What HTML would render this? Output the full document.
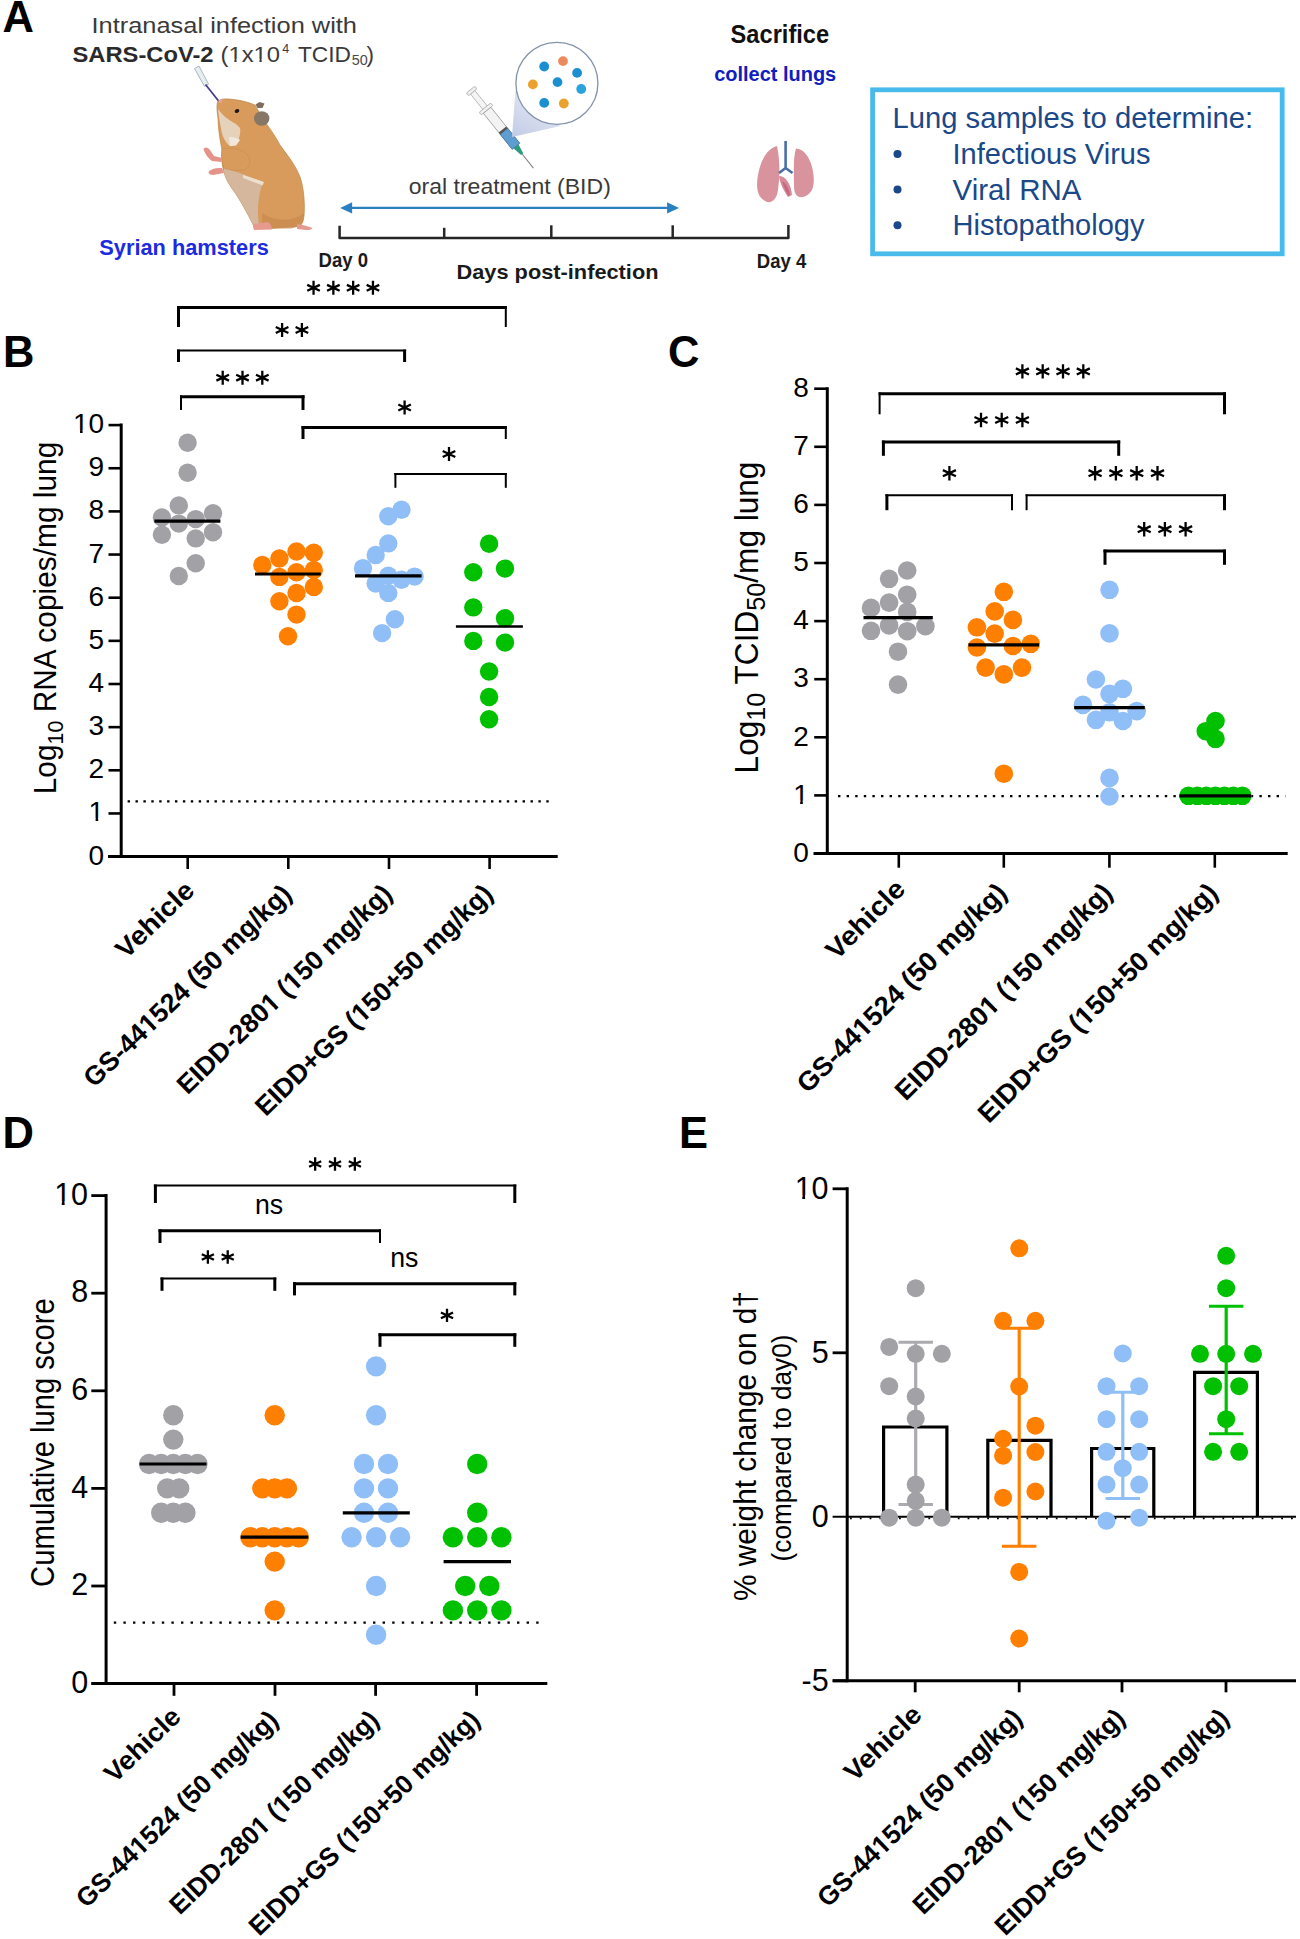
<!DOCTYPE html><html><head><meta charset="utf-8"><style>html,body{margin:0;padding:0;background:#fff;}svg{display:block;}</style></head><body>
<svg width="1300" height="1939" viewBox="0 0 1300 1939" font-family='"Liberation Sans", sans-serif'>
<rect width="1300" height="1939" fill="#fff"/>
<text x="2.5" y="32.1" font-size="43.5" text-anchor="start" font-weight="bold" fill="#000" >A</text>
<text x="3" y="366.8" font-size="43.5" text-anchor="start" font-weight="bold" fill="#000" >B</text>
<text x="668" y="366.8" font-size="43.5" text-anchor="start" font-weight="bold" fill="#000" >C</text>
<text x="2.5" y="1148" font-size="43.5" text-anchor="start" font-weight="bold" fill="#000" >D</text>
<text x="679" y="1148.4" font-size="43.5" text-anchor="start" font-weight="bold" fill="#000" >E</text>
<line x1="121.2" y1="423.6" x2="121.2" y2="858.1" stroke="#000" stroke-width="3" stroke-linecap="butt" />
<line x1="108" y1="856.6" x2="557.7" y2="856.6" stroke="#000" stroke-width="3" stroke-linecap="butt" />
<line x1="108.5" y1="856.6" x2="121.2" y2="856.6" stroke="#000" stroke-width="2.6" stroke-linecap="butt" />
<text x="104.2" y="864.6" font-size="28" text-anchor="end" font-weight="normal" fill="#000" >0</text>
<line x1="108.5" y1="813.45" x2="121.2" y2="813.45" stroke="#000" stroke-width="2.6" stroke-linecap="butt" />
<text x="104.2" y="821.45" font-size="28" text-anchor="end" font-weight="normal" fill="#000" >1</text>
<rect x="89.75" y="818.23" width="5.85" height="4.22" fill="#fff"/>
<rect x="98.2" y="818.23" width="5.68" height="4.22" fill="#fff"/>
<line x1="108.5" y1="770.3" x2="121.2" y2="770.3" stroke="#000" stroke-width="2.6" stroke-linecap="butt" />
<text x="104.2" y="778.3" font-size="28" text-anchor="end" font-weight="normal" fill="#000" >2</text>
<line x1="108.5" y1="727.15" x2="121.2" y2="727.15" stroke="#000" stroke-width="2.6" stroke-linecap="butt" />
<text x="104.2" y="735.15" font-size="28" text-anchor="end" font-weight="normal" fill="#000" >3</text>
<line x1="108.5" y1="684" x2="121.2" y2="684" stroke="#000" stroke-width="2.6" stroke-linecap="butt" />
<text x="104.2" y="692" font-size="28" text-anchor="end" font-weight="normal" fill="#000" >4</text>
<line x1="108.5" y1="640.85" x2="121.2" y2="640.85" stroke="#000" stroke-width="2.6" stroke-linecap="butt" />
<text x="104.2" y="648.85" font-size="28" text-anchor="end" font-weight="normal" fill="#000" >5</text>
<line x1="108.5" y1="597.7" x2="121.2" y2="597.7" stroke="#000" stroke-width="2.6" stroke-linecap="butt" />
<text x="104.2" y="605.7" font-size="28" text-anchor="end" font-weight="normal" fill="#000" >6</text>
<line x1="108.5" y1="554.55" x2="121.2" y2="554.55" stroke="#000" stroke-width="2.6" stroke-linecap="butt" />
<text x="104.2" y="562.55" font-size="28" text-anchor="end" font-weight="normal" fill="#000" >7</text>
<line x1="108.5" y1="511.4" x2="121.2" y2="511.4" stroke="#000" stroke-width="2.6" stroke-linecap="butt" />
<text x="104.2" y="519.4" font-size="28" text-anchor="end" font-weight="normal" fill="#000" >8</text>
<line x1="108.5" y1="468.25" x2="121.2" y2="468.25" stroke="#000" stroke-width="2.6" stroke-linecap="butt" />
<text x="104.2" y="476.25" font-size="28" text-anchor="end" font-weight="normal" fill="#000" >9</text>
<line x1="108.5" y1="425.1" x2="121.2" y2="425.1" stroke="#000" stroke-width="2.6" stroke-linecap="butt" />
<text x="104.2" y="433.1" font-size="28" text-anchor="end" font-weight="normal" fill="#000" >10</text>
<rect x="74.18" y="429.88" width="5.85" height="4.22" fill="#fff"/>
<rect x="82.63" y="429.88" width="5.68" height="4.22" fill="#fff"/>
<line x1="187.7" y1="856.6" x2="187.7" y2="869" stroke="#000" stroke-width="2.6" stroke-linecap="butt" />
<line x1="288.3" y1="856.6" x2="288.3" y2="869" stroke="#000" stroke-width="2.6" stroke-linecap="butt" />
<line x1="389" y1="856.6" x2="389" y2="869" stroke="#000" stroke-width="2.6" stroke-linecap="butt" />
<line x1="489.6" y1="856.6" x2="489.6" y2="869" stroke="#000" stroke-width="2.6" stroke-linecap="butt" />
<text transform="translate(56.2,618) rotate(-90)" font-size="31" text-anchor="middle" textLength="352.5" lengthAdjust="spacingAndGlyphs">Log<tspan font-size="22.2" dy="7">10</tspan><tspan dy="-7"> RNA copies/mg lung</tspan></text>
<g transform="translate(195.99,892.22) rotate(-44.1)"><text font-size="26.6" text-anchor="end" font-weight="bold" textLength="97.35" lengthAdjust="spacingAndGlyphs">Vehicle</text></g>
<g transform="translate(293,895.7) rotate(-44.1)"><text font-size="26.6" text-anchor="end" font-weight="bold" textLength="276.94" lengthAdjust="spacingAndGlyphs">GS-441524 (50 mg/kg)</text><rect x="-198.86" y="-3.59" width="5.09" height="4.79" fill="#fff"/><rect x="-190.02" y="-3.59" width="4.69" height="4.79" fill="#fff"/></g>
<g transform="translate(393.7,895.7) rotate(-44.1)"><text font-size="26.6" text-anchor="end" font-weight="bold" textLength="287.28" lengthAdjust="spacingAndGlyphs">EIDD-2801 (150 mg/kg)</text><rect x="-169.23" y="-3.59" width="5.09" height="4.79" fill="#fff"/><rect x="-160.38" y="-3.59" width="4.69" height="4.79" fill="#fff"/><rect x="-138.13" y="-3.59" width="5.09" height="4.79" fill="#fff"/><rect x="-129.28" y="-3.59" width="4.69" height="4.79" fill="#fff"/></g>
<g transform="translate(494.3,895.7) rotate(-44.1)"><text font-size="26.6" text-anchor="end" font-weight="bold" textLength="318.4" lengthAdjust="spacingAndGlyphs">EIDD+GS (150+50 mg/kg)</text><rect x="-183.34" y="-3.59" width="5.09" height="4.79" fill="#fff"/><rect x="-174.49" y="-3.59" width="4.69" height="4.79" fill="#fff"/></g>
<line x1="127.6" y1="801.4" x2="552" y2="801.4" stroke="#000" stroke-width="2.2" stroke-dasharray="2.4 5.5"/>
<circle cx="187.6" cy="442.7" r="9.2" fill="#a1a1a6"/>
<circle cx="187.6" cy="472.7" r="9.2" fill="#a1a1a6"/>
<circle cx="178.8" cy="505.4" r="9.2" fill="#a1a1a6"/>
<circle cx="161.9" cy="517.4" r="9.2" fill="#a1a1a6"/>
<circle cx="213" cy="513.3" r="9.2" fill="#a1a1a6"/>
<circle cx="195.7" cy="519.1" r="9.2" fill="#a1a1a6"/>
<circle cx="178.8" cy="523.6" r="9.2" fill="#a1a1a6"/>
<circle cx="161.9" cy="534.7" r="9.2" fill="#a1a1a6"/>
<circle cx="213" cy="532.3" r="9.2" fill="#a1a1a6"/>
<circle cx="195.7" cy="538.4" r="9.2" fill="#a1a1a6"/>
<circle cx="195.7" cy="563.2" r="9.2" fill="#a1a1a6"/>
<circle cx="178.8" cy="576" r="9.2" fill="#a1a1a6"/>
<circle cx="262.3" cy="565" r="9.2" fill="#ff7f00"/>
<circle cx="279.4" cy="558.5" r="9.2" fill="#ff7f00"/>
<circle cx="296.5" cy="551.5" r="9.2" fill="#ff7f00"/>
<circle cx="313.8" cy="552.7" r="9.2" fill="#ff7f00"/>
<circle cx="313.8" cy="570" r="9.2" fill="#ff7f00"/>
<circle cx="296.5" cy="572.3" r="9.2" fill="#ff7f00"/>
<circle cx="279.4" cy="576.9" r="9.2" fill="#ff7f00"/>
<circle cx="313.8" cy="586.9" r="9.2" fill="#ff7f00"/>
<circle cx="296.5" cy="593" r="9.2" fill="#ff7f00"/>
<circle cx="279.4" cy="601.2" r="9.2" fill="#ff7f00"/>
<circle cx="296.5" cy="614.6" r="9.2" fill="#ff7f00"/>
<circle cx="288" cy="636.2" r="9.2" fill="#ff7f00"/>
<circle cx="401.5" cy="509.7" r="9.2" fill="#90bef6"/>
<circle cx="388.3" cy="516.3" r="9.2" fill="#90bef6"/>
<circle cx="388.3" cy="543.4" r="9.2" fill="#90bef6"/>
<circle cx="375.7" cy="555" r="9.2" fill="#90bef6"/>
<circle cx="363" cy="568.1" r="9.2" fill="#90bef6"/>
<circle cx="388.3" cy="575.8" r="9.2" fill="#90bef6"/>
<circle cx="401.5" cy="579.7" r="9.2" fill="#90bef6"/>
<circle cx="414.6" cy="576.6" r="9.2" fill="#90bef6"/>
<circle cx="375.7" cy="583.6" r="9.2" fill="#90bef6"/>
<circle cx="388.3" cy="592.9" r="9.2" fill="#90bef6"/>
<circle cx="394.9" cy="619.2" r="9.2" fill="#90bef6"/>
<circle cx="382.1" cy="633.1" r="9.2" fill="#90bef6"/>
<circle cx="489.1" cy="543.8" r="9.2" fill="#00c000"/>
<circle cx="473.3" cy="572.2" r="9.2" fill="#00c000"/>
<circle cx="505" cy="568.6" r="9.2" fill="#00c000"/>
<circle cx="473.3" cy="607.4" r="9.2" fill="#00c000"/>
<circle cx="505" cy="618.2" r="9.2" fill="#00c000"/>
<circle cx="473.3" cy="640.9" r="9.2" fill="#00c000"/>
<circle cx="505" cy="642.6" r="9.2" fill="#00c000"/>
<circle cx="489.1" cy="671.5" r="9.2" fill="#00c000"/>
<circle cx="489.1" cy="697" r="9.2" fill="#00c000"/>
<circle cx="489.1" cy="719.2" r="9.2" fill="#00c000"/>
<line x1="154.4" y1="521.1" x2="220.4" y2="521.1" stroke="#000" stroke-width="3.2" stroke-linecap="butt" />
<line x1="255" y1="574" x2="320.8" y2="574" stroke="#000" stroke-width="3.2" stroke-linecap="butt" />
<line x1="355" y1="575.8" x2="421.6" y2="575.8" stroke="#000" stroke-width="3.2" stroke-linecap="butt" />
<line x1="455.9" y1="626.5" x2="522.9" y2="626.5" stroke="#000" stroke-width="2.6" stroke-linecap="butt" />
<line x1="177" y1="307.5" x2="506.8" y2="307.5" stroke="#000" stroke-width="3" stroke-linecap="butt" />
<line x1="178.5" y1="306" x2="178.5" y2="327" stroke="#000" stroke-width="3" stroke-linecap="butt" />
<line x1="505.8" y1="306" x2="505.8" y2="327" stroke="#000" stroke-width="2" stroke-linecap="butt" />
<path d="M313.55 280.85V294.75M307.25 284.86L319.85 290.74M307.25 290.74L319.85 284.86" stroke="#000" stroke-width="2.3" fill="none"/>
<path d="M333.35 280.85V294.75M327.05 284.86L339.65 290.74M327.05 290.74L339.65 284.86" stroke="#000" stroke-width="2.3" fill="none"/>
<path d="M353.15 280.85V294.75M346.85 284.86L359.45 290.74M346.85 290.74L359.45 284.86" stroke="#000" stroke-width="2.3" fill="none"/>
<path d="M372.95 280.85V294.75M366.65 284.86L379.25 290.74M366.65 290.74L379.25 284.86" stroke="#000" stroke-width="2.3" fill="none"/>
<line x1="177" y1="350.6" x2="406.1" y2="350.6" stroke="#000" stroke-width="2" stroke-linecap="butt" />
<line x1="178.5" y1="349.6" x2="178.5" y2="362" stroke="#000" stroke-width="3" stroke-linecap="butt" />
<line x1="404.6" y1="349.6" x2="404.6" y2="362" stroke="#000" stroke-width="3" stroke-linecap="butt" />
<path d="M282.1 323.05V336.95M275.8 327.06L288.4 332.94M275.8 332.94L288.4 327.06" stroke="#000" stroke-width="2.3" fill="none"/>
<path d="M301.9 323.05V336.95M295.6 327.06L308.2 332.94M295.6 332.94L308.2 327.06" stroke="#000" stroke-width="2.3" fill="none"/>
<line x1="180" y1="396.8" x2="304.5" y2="396.8" stroke="#000" stroke-width="3" stroke-linecap="butt" />
<line x1="181" y1="395.3" x2="181" y2="410" stroke="#000" stroke-width="2" stroke-linecap="butt" />
<line x1="303" y1="395.3" x2="303" y2="410" stroke="#000" stroke-width="3" stroke-linecap="butt" />
<path d="M222.7 370.75V384.65M216.4 374.76L229 380.64M216.4 380.64L229 374.76" stroke="#000" stroke-width="2.3" fill="none"/>
<path d="M242.5 370.75V384.65M236.2 374.76L248.8 380.64M236.2 380.64L248.8 374.76" stroke="#000" stroke-width="2.3" fill="none"/>
<path d="M262.3 370.75V384.65M256 374.76L268.6 380.64M256 380.64L268.6 374.76" stroke="#000" stroke-width="2.3" fill="none"/>
<line x1="301.5" y1="427.5" x2="506.8" y2="427.5" stroke="#000" stroke-width="3" stroke-linecap="butt" />
<line x1="303" y1="426" x2="303" y2="439" stroke="#000" stroke-width="3" stroke-linecap="butt" />
<line x1="505.8" y1="426" x2="505.8" y2="439" stroke="#000" stroke-width="2" stroke-linecap="butt" />
<path d="M404.6 400.55V414.45M398.3 404.56L410.9 410.44M398.3 410.44L410.9 404.56" stroke="#000" stroke-width="2.3" fill="none"/>
<line x1="394.4" y1="474" x2="506.8" y2="474" stroke="#000" stroke-width="2" stroke-linecap="butt" />
<line x1="395.4" y1="473" x2="395.4" y2="487.8" stroke="#000" stroke-width="2" stroke-linecap="butt" />
<line x1="505.8" y1="473" x2="505.8" y2="487.8" stroke="#000" stroke-width="2" stroke-linecap="butt" />
<path d="M449 447.05V460.95M442.7 451.06L455.3 456.94M442.7 456.94L455.3 451.06" stroke="#000" stroke-width="2.3" fill="none"/>
<line x1="827.3" y1="387.2" x2="827.3" y2="855" stroke="#000" stroke-width="3" stroke-linecap="butt" />
<line x1="813.5" y1="853.5" x2="1287.7" y2="853.5" stroke="#000" stroke-width="3" stroke-linecap="butt" />
<line x1="814.2" y1="853.5" x2="827.3" y2="853.5" stroke="#000" stroke-width="2.6" stroke-linecap="butt" />
<text x="808.8" y="861.7" font-size="28" text-anchor="end" font-weight="normal" fill="#000" >0</text>
<line x1="814.2" y1="795.4" x2="827.3" y2="795.4" stroke="#000" stroke-width="2.6" stroke-linecap="butt" />
<text x="808.8" y="803.6" font-size="28" text-anchor="end" font-weight="normal" fill="#000" >1</text>
<rect x="794.35" y="800.38" width="5.85" height="4.22" fill="#fff"/>
<rect x="802.8" y="800.38" width="5.68" height="4.22" fill="#fff"/>
<line x1="814.2" y1="737.3" x2="827.3" y2="737.3" stroke="#000" stroke-width="2.6" stroke-linecap="butt" />
<text x="808.8" y="745.5" font-size="28" text-anchor="end" font-weight="normal" fill="#000" >2</text>
<line x1="814.2" y1="679.2" x2="827.3" y2="679.2" stroke="#000" stroke-width="2.6" stroke-linecap="butt" />
<text x="808.8" y="687.4" font-size="28" text-anchor="end" font-weight="normal" fill="#000" >3</text>
<line x1="814.2" y1="621.1" x2="827.3" y2="621.1" stroke="#000" stroke-width="2.6" stroke-linecap="butt" />
<text x="808.8" y="629.3" font-size="28" text-anchor="end" font-weight="normal" fill="#000" >4</text>
<line x1="814.2" y1="563" x2="827.3" y2="563" stroke="#000" stroke-width="2.6" stroke-linecap="butt" />
<text x="808.8" y="571.2" font-size="28" text-anchor="end" font-weight="normal" fill="#000" >5</text>
<line x1="814.2" y1="504.9" x2="827.3" y2="504.9" stroke="#000" stroke-width="2.6" stroke-linecap="butt" />
<text x="808.8" y="513.1" font-size="28" text-anchor="end" font-weight="normal" fill="#000" >6</text>
<line x1="814.2" y1="446.8" x2="827.3" y2="446.8" stroke="#000" stroke-width="2.6" stroke-linecap="butt" />
<text x="808.8" y="455" font-size="28" text-anchor="end" font-weight="normal" fill="#000" >7</text>
<line x1="814.2" y1="388.7" x2="827.3" y2="388.7" stroke="#000" stroke-width="2.6" stroke-linecap="butt" />
<text x="808.8" y="396.9" font-size="28" text-anchor="end" font-weight="normal" fill="#000" >8</text>
<line x1="898.8" y1="853.5" x2="898.8" y2="867.7" stroke="#000" stroke-width="2.6" stroke-linecap="butt" />
<line x1="1003.8" y1="853.5" x2="1003.8" y2="867.7" stroke="#000" stroke-width="2.6" stroke-linecap="butt" />
<line x1="1109.4" y1="853.5" x2="1109.4" y2="867.7" stroke="#000" stroke-width="2.6" stroke-linecap="butt" />
<line x1="1214.8" y1="853.5" x2="1214.8" y2="867.7" stroke="#000" stroke-width="2.6" stroke-linecap="butt" />
<text transform="translate(757.6,617.5) rotate(-90)" font-size="32.5" text-anchor="middle" textLength="311.8" lengthAdjust="spacingAndGlyphs">Log<tspan font-size="26" dy="7.3">10</tspan><tspan dy="-7.3"> TCID</tspan><tspan font-size="26" dy="7.3">50</tspan><tspan dy="-7.3">/mg lung</tspan></text>
<g transform="translate(906.94,890.77) rotate(-44.9)"><text font-size="26.8" text-anchor="end" font-weight="bold" textLength="99.58" lengthAdjust="spacingAndGlyphs">Vehicle</text></g>
<g transform="translate(1008.4,894.3) rotate(-44.9)"><text font-size="26.8" text-anchor="end" font-weight="bold" textLength="283.28" lengthAdjust="spacingAndGlyphs">GS-441524 (50 mg/kg)</text><rect x="-203.42" y="-3.62" width="5.21" height="4.82" fill="#fff"/><rect x="-194.37" y="-3.62" width="4.8" height="4.82" fill="#fff"/></g>
<g transform="translate(1114,894.3) rotate(-44.9)"><text font-size="26.8" text-anchor="end" font-weight="bold" textLength="293.87" lengthAdjust="spacingAndGlyphs">EIDD-2801 (150 mg/kg)</text><rect x="-173.11" y="-3.62" width="5.21" height="4.82" fill="#fff"/><rect x="-164.06" y="-3.62" width="4.8" height="4.82" fill="#fff"/><rect x="-141.3" y="-3.62" width="5.21" height="4.82" fill="#fff"/><rect x="-132.25" y="-3.62" width="4.8" height="4.82" fill="#fff"/></g>
<g transform="translate(1219.4,894.3) rotate(-44.9)"><text font-size="26.8" text-anchor="end" font-weight="bold" textLength="325.7" lengthAdjust="spacingAndGlyphs">EIDD+GS (150+50 mg/kg)</text><rect x="-187.54" y="-3.62" width="5.21" height="4.82" fill="#fff"/><rect x="-178.49" y="-3.62" width="4.8" height="4.82" fill="#fff"/></g>
<line x1="838" y1="796.2" x2="1285.5" y2="796.2" stroke="#000" stroke-width="2.2" stroke-dasharray="2.4 6.2"/>
<circle cx="907.2" cy="570.5" r="9.3" fill="#a1a1a6"/>
<circle cx="889.1" cy="578.8" r="9.3" fill="#a1a1a6"/>
<circle cx="907.2" cy="594.7" r="9.3" fill="#a1a1a6"/>
<circle cx="889.1" cy="602.6" r="9.3" fill="#a1a1a6"/>
<circle cx="871" cy="607.9" r="9.3" fill="#a1a1a6"/>
<circle cx="907.2" cy="611.9" r="9.3" fill="#a1a1a6"/>
<circle cx="889.1" cy="625.4" r="9.3" fill="#a1a1a6"/>
<circle cx="871" cy="630.8" r="9.3" fill="#a1a1a6"/>
<circle cx="907.2" cy="631.2" r="9.3" fill="#a1a1a6"/>
<circle cx="925.4" cy="626.2" r="9.3" fill="#a1a1a6"/>
<circle cx="898" cy="651.7" r="9.3" fill="#a1a1a6"/>
<circle cx="898" cy="684.6" r="9.3" fill="#a1a1a6"/>
<circle cx="1003.8" cy="591.8" r="9.3" fill="#ff7f00"/>
<circle cx="994.7" cy="611.4" r="9.3" fill="#ff7f00"/>
<circle cx="1012.9" cy="619.9" r="9.3" fill="#ff7f00"/>
<circle cx="976.9" cy="627.3" r="9.3" fill="#ff7f00"/>
<circle cx="994.7" cy="633.6" r="9.3" fill="#ff7f00"/>
<circle cx="976.9" cy="647.5" r="9.3" fill="#ff7f00"/>
<circle cx="1012.9" cy="646" r="9.3" fill="#ff7f00"/>
<circle cx="1030.8" cy="643.8" r="9.3" fill="#ff7f00"/>
<circle cx="985.6" cy="667.6" r="9.3" fill="#ff7f00"/>
<circle cx="1003.8" cy="674.4" r="9.3" fill="#ff7f00"/>
<circle cx="1022" cy="667.6" r="9.3" fill="#ff7f00"/>
<circle cx="1003.8" cy="773.7" r="9.3" fill="#ff7f00"/>
<circle cx="1109.5" cy="589.8" r="9.3" fill="#90bef6"/>
<circle cx="1109.5" cy="633.4" r="9.3" fill="#90bef6"/>
<circle cx="1095.9" cy="679.5" r="9.3" fill="#90bef6"/>
<circle cx="1122.9" cy="688.8" r="9.3" fill="#90bef6"/>
<circle cx="1109.5" cy="693.8" r="9.3" fill="#90bef6"/>
<circle cx="1082.9" cy="704.9" r="9.3" fill="#90bef6"/>
<circle cx="1109.5" cy="712.3" r="9.3" fill="#90bef6"/>
<circle cx="1136.7" cy="711.1" r="9.3" fill="#90bef6"/>
<circle cx="1095.9" cy="719.8" r="9.3" fill="#90bef6"/>
<circle cx="1122.9" cy="721" r="9.3" fill="#90bef6"/>
<circle cx="1109.5" cy="777.9" r="9.3" fill="#90bef6"/>
<circle cx="1109.5" cy="796.5" r="9.3" fill="#90bef6"/>
<circle cx="1215.5" cy="721" r="9.3" fill="#00c000"/>
<circle cx="1205.8" cy="731.2" r="9.3" fill="#00c000"/>
<circle cx="1215.5" cy="738.8" r="9.3" fill="#00c000"/>
<circle cx="1188.5" cy="795.8" r="9.3" fill="#00c000"/>
<circle cx="1197.48" cy="795.8" r="9.3" fill="#00c000"/>
<circle cx="1206.46" cy="795.8" r="9.3" fill="#00c000"/>
<circle cx="1215.44" cy="795.8" r="9.3" fill="#00c000"/>
<circle cx="1224.42" cy="795.8" r="9.3" fill="#00c000"/>
<circle cx="1233.4" cy="795.8" r="9.3" fill="#00c000"/>
<circle cx="1242.38" cy="795.8" r="9.3" fill="#00c000"/>
<line x1="863.5" y1="617.7" x2="932.8" y2="617.7" stroke="#000" stroke-width="3.2" stroke-linecap="butt" />
<line x1="968.4" y1="644.9" x2="1039" y2="644.9" stroke="#000" stroke-width="3.2" stroke-linecap="butt" />
<line x1="1074.2" y1="707.6" x2="1144.8" y2="707.6" stroke="#000" stroke-width="3.2" stroke-linecap="butt" />
<line x1="1179.4" y1="795.8" x2="1251" y2="795.8" stroke="#000" stroke-width="3.2" stroke-linecap="butt" />
<line x1="878.6" y1="393.8" x2="1226" y2="393.8" stroke="#000" stroke-width="3" stroke-linecap="butt" />
<line x1="879.6" y1="392.3" x2="879.6" y2="414.3" stroke="#000" stroke-width="2" stroke-linecap="butt" />
<line x1="1224.5" y1="392.3" x2="1224.5" y2="414.3" stroke="#000" stroke-width="3" stroke-linecap="butt" />
<path d="M1022.4 364.2V378.6M1015.87 368.36L1028.93 374.44M1015.87 374.44L1028.93 368.36" stroke="#000" stroke-width="2.3" fill="none"/>
<path d="M1042.7 364.2V378.6M1036.17 368.36L1049.23 374.44M1036.17 374.44L1049.23 368.36" stroke="#000" stroke-width="2.3" fill="none"/>
<path d="M1063 364.2V378.6M1056.47 368.36L1069.53 374.44M1056.47 374.44L1069.53 368.36" stroke="#000" stroke-width="2.3" fill="none"/>
<path d="M1083.3 364.2V378.6M1076.77 368.36L1089.83 374.44M1076.77 374.44L1089.83 368.36" stroke="#000" stroke-width="2.3" fill="none"/>
<line x1="881.9" y1="442" x2="1120.2" y2="442" stroke="#000" stroke-width="3" stroke-linecap="butt" />
<line x1="883.4" y1="440.5" x2="883.4" y2="455.8" stroke="#000" stroke-width="3" stroke-linecap="butt" />
<line x1="1118.7" y1="440.5" x2="1118.7" y2="455.8" stroke="#000" stroke-width="3" stroke-linecap="butt" />
<path d="M981 412.8V427.2M974.47 416.96L987.53 423.04M974.47 423.04L987.53 416.96" stroke="#000" stroke-width="2.3" fill="none"/>
<path d="M1001.7 412.8V427.2M995.17 416.96L1008.23 423.04M995.17 423.04L1008.23 416.96" stroke="#000" stroke-width="2.3" fill="none"/>
<path d="M1022.4 412.8V427.2M1015.87 416.96L1028.93 423.04M1015.87 423.04L1028.93 416.96" stroke="#000" stroke-width="2.3" fill="none"/>
<line x1="885.4" y1="495.3" x2="1013" y2="495.3" stroke="#000" stroke-width="2" stroke-linecap="butt" />
<line x1="886.9" y1="494.3" x2="886.9" y2="510.2" stroke="#000" stroke-width="3" stroke-linecap="butt" />
<line x1="1012" y1="494.3" x2="1012" y2="510.2" stroke="#000" stroke-width="2" stroke-linecap="butt" />
<path d="M949.4 466V480.4M942.87 470.16L955.93 476.24M942.87 476.24L955.93 470.16" stroke="#000" stroke-width="2.3" fill="none"/>
<line x1="1025.6" y1="495.3" x2="1226" y2="495.3" stroke="#000" stroke-width="2" stroke-linecap="butt" />
<line x1="1026.6" y1="494.3" x2="1026.6" y2="510.2" stroke="#000" stroke-width="2" stroke-linecap="butt" />
<line x1="1224.5" y1="494.3" x2="1224.5" y2="510.2" stroke="#000" stroke-width="3" stroke-linecap="butt" />
<path d="M1095.1 466V480.4M1088.57 470.16L1101.63 476.24M1088.57 476.24L1101.63 470.16" stroke="#000" stroke-width="2.3" fill="none"/>
<path d="M1115.9 466V480.4M1109.37 470.16L1122.43 476.24M1109.37 476.24L1122.43 470.16" stroke="#000" stroke-width="2.3" fill="none"/>
<path d="M1136.7 466V480.4M1130.17 470.16L1143.23 476.24M1130.17 476.24L1143.23 470.16" stroke="#000" stroke-width="2.3" fill="none"/>
<path d="M1157.5 466V480.4M1150.97 470.16L1164.03 476.24M1150.97 476.24L1164.03 470.16" stroke="#000" stroke-width="2.3" fill="none"/>
<line x1="1103.5" y1="551.1" x2="1226" y2="551.1" stroke="#000" stroke-width="3" stroke-linecap="butt" />
<line x1="1105" y1="549.6" x2="1105" y2="564.8" stroke="#000" stroke-width="3" stroke-linecap="butt" />
<line x1="1224.5" y1="549.6" x2="1224.5" y2="564.8" stroke="#000" stroke-width="3" stroke-linecap="butt" />
<path d="M1144.2 522V536.4M1137.67 526.16L1150.73 532.24M1137.67 532.24L1150.73 526.16" stroke="#000" stroke-width="2.3" fill="none"/>
<path d="M1164.9 522V536.4M1158.37 526.16L1171.43 532.24M1158.37 532.24L1171.43 526.16" stroke="#000" stroke-width="2.3" fill="none"/>
<path d="M1185.6 522V536.4M1179.07 526.16L1192.13 532.24M1179.07 532.24L1192.13 526.16" stroke="#000" stroke-width="2.3" fill="none"/>
<line x1="106.1" y1="1194.1" x2="106.1" y2="1685.1" stroke="#000" stroke-width="3" stroke-linecap="butt" />
<line x1="91.5" y1="1683.6" x2="547.3" y2="1683.6" stroke="#000" stroke-width="3" stroke-linecap="butt" />
<line x1="91.3" y1="1683.6" x2="106.1" y2="1683.6" stroke="#000" stroke-width="2.8" stroke-linecap="butt" />
<text x="88.1" y="1692.8" font-size="30.5" text-anchor="end" font-weight="normal" fill="#000" >0</text>
<line x1="91.3" y1="1586" x2="106.1" y2="1586" stroke="#000" stroke-width="2.8" stroke-linecap="butt" />
<text x="88.1" y="1595.2" font-size="30.5" text-anchor="end" font-weight="normal" fill="#000" >2</text>
<line x1="91.3" y1="1488.4" x2="106.1" y2="1488.4" stroke="#000" stroke-width="2.8" stroke-linecap="butt" />
<text x="88.1" y="1497.6" font-size="30.5" text-anchor="end" font-weight="normal" fill="#000" >4</text>
<line x1="91.3" y1="1390.8" x2="106.1" y2="1390.8" stroke="#000" stroke-width="2.8" stroke-linecap="butt" />
<text x="88.1" y="1400" font-size="30.5" text-anchor="end" font-weight="normal" fill="#000" >6</text>
<line x1="91.3" y1="1293.2" x2="106.1" y2="1293.2" stroke="#000" stroke-width="2.8" stroke-linecap="butt" />
<text x="88.1" y="1302.4" font-size="30.5" text-anchor="end" font-weight="normal" fill="#000" >8</text>
<line x1="91.3" y1="1195.6" x2="106.1" y2="1195.6" stroke="#000" stroke-width="2.8" stroke-linecap="butt" />
<text x="88.1" y="1204.8" font-size="30.5" text-anchor="end" font-weight="normal" fill="#000" >10</text>
<rect x="55.39" y="1201.29" width="6.37" height="4.51" fill="#fff"/>
<rect x="64.61" y="1201.29" width="6.19" height="4.51" fill="#fff"/>
<line x1="174" y1="1683.6" x2="174" y2="1695.8" stroke="#000" stroke-width="2.8" stroke-linecap="butt" />
<line x1="275" y1="1683.6" x2="275" y2="1695.8" stroke="#000" stroke-width="2.8" stroke-linecap="butt" />
<line x1="375.6" y1="1683.6" x2="375.6" y2="1695.8" stroke="#000" stroke-width="2.8" stroke-linecap="butt" />
<line x1="476.6" y1="1683.6" x2="476.6" y2="1695.8" stroke="#000" stroke-width="2.8" stroke-linecap="butt" />
<text transform="translate(54.1,1442.65) rotate(-90)" font-size="32.5" text-anchor="middle" textLength="288.5" lengthAdjust="spacingAndGlyphs">Cumulative lung score</text>
<g transform="translate(182.39,1718.32) rotate(-44.06)"><text font-size="26.2" text-anchor="end" font-weight="bold" textLength="94.57" lengthAdjust="spacingAndGlyphs">Vehicle</text></g>
<g transform="translate(279.8,1721.8) rotate(-44.06)"><text font-size="26.2" text-anchor="end" font-weight="bold" textLength="269.02" lengthAdjust="spacingAndGlyphs">GS-441524 (50 mg/kg)</text><rect x="-193.18" y="-3.54" width="4.94" height="4.74" fill="#fff"/><rect x="-184.58" y="-3.54" width="4.56" height="4.74" fill="#fff"/></g>
<g transform="translate(380.4,1721.8) rotate(-44.06)"><text font-size="26.2" text-anchor="end" font-weight="bold" textLength="279.07" lengthAdjust="spacingAndGlyphs">EIDD-2801 (150 mg/kg)</text><rect x="-164.39" y="-3.54" width="4.94" height="4.74" fill="#fff"/><rect x="-155.8" y="-3.54" width="4.56" height="4.74" fill="#fff"/><rect x="-134.18" y="-3.54" width="4.94" height="4.74" fill="#fff"/><rect x="-125.59" y="-3.54" width="4.56" height="4.74" fill="#fff"/></g>
<g transform="translate(481.4,1721.8) rotate(-44.06)"><text font-size="26.2" text-anchor="end" font-weight="bold" textLength="309.3" lengthAdjust="spacingAndGlyphs">EIDD+GS (150+50 mg/kg)</text><rect x="-178.1" y="-3.54" width="4.94" height="4.74" fill="#fff"/><rect x="-169.5" y="-3.54" width="4.56" height="4.74" fill="#fff"/></g>
<line x1="113.8" y1="1622.7" x2="543.5" y2="1622.7" stroke="#000" stroke-width="2.2" stroke-dasharray="2.4 7.2"/>
<circle cx="173.3" cy="1415.2" r="10.2" fill="#a1a1a6"/>
<circle cx="173.3" cy="1439.6" r="10.2" fill="#a1a1a6"/>
<circle cx="149.1" cy="1464" r="10.2" fill="#a1a1a6"/>
<circle cx="161.2" cy="1464" r="10.2" fill="#a1a1a6"/>
<circle cx="173.3" cy="1464" r="10.2" fill="#a1a1a6"/>
<circle cx="185.4" cy="1464" r="10.2" fill="#a1a1a6"/>
<circle cx="197.5" cy="1464" r="10.2" fill="#a1a1a6"/>
<circle cx="167.2" cy="1488.4" r="10.2" fill="#a1a1a6"/>
<circle cx="179.2" cy="1488.4" r="10.2" fill="#a1a1a6"/>
<circle cx="161.2" cy="1512.8" r="10.2" fill="#a1a1a6"/>
<circle cx="173.3" cy="1512.8" r="10.2" fill="#a1a1a6"/>
<circle cx="185.4" cy="1512.8" r="10.2" fill="#a1a1a6"/>
<circle cx="274.7" cy="1415.2" r="10.2" fill="#ff7f00"/>
<circle cx="262.3" cy="1488.4" r="10.2" fill="#ff7f00"/>
<circle cx="274.7" cy="1488.4" r="10.2" fill="#ff7f00"/>
<circle cx="286.9" cy="1488.4" r="10.2" fill="#ff7f00"/>
<circle cx="250.4" cy="1537.2" r="10.2" fill="#ff7f00"/>
<circle cx="262.3" cy="1537.2" r="10.2" fill="#ff7f00"/>
<circle cx="274.7" cy="1537.2" r="10.2" fill="#ff7f00"/>
<circle cx="286.9" cy="1537.2" r="10.2" fill="#ff7f00"/>
<circle cx="298.8" cy="1537.2" r="10.2" fill="#ff7f00"/>
<circle cx="274.7" cy="1561.6" r="10.2" fill="#ff7f00"/>
<circle cx="274.7" cy="1610.4" r="10.2" fill="#ff7f00"/>
<circle cx="376.1" cy="1366.4" r="10.2" fill="#90bef6"/>
<circle cx="376.1" cy="1415.2" r="10.2" fill="#90bef6"/>
<circle cx="364" cy="1464" r="10.2" fill="#90bef6"/>
<circle cx="388" cy="1464" r="10.2" fill="#90bef6"/>
<circle cx="364" cy="1488.4" r="10.2" fill="#90bef6"/>
<circle cx="388" cy="1488.4" r="10.2" fill="#90bef6"/>
<circle cx="364" cy="1512.8" r="10.2" fill="#90bef6"/>
<circle cx="388" cy="1512.8" r="10.2" fill="#90bef6"/>
<circle cx="351.6" cy="1537.2" r="10.2" fill="#90bef6"/>
<circle cx="376.1" cy="1537.2" r="10.2" fill="#90bef6"/>
<circle cx="400.1" cy="1537.2" r="10.2" fill="#90bef6"/>
<circle cx="376.1" cy="1586" r="10.2" fill="#90bef6"/>
<circle cx="376.1" cy="1634.8" r="10.2" fill="#90bef6"/>
<circle cx="477.2" cy="1464" r="10.2" fill="#00c000"/>
<circle cx="477.2" cy="1512.8" r="10.2" fill="#00c000"/>
<circle cx="452.9" cy="1537.2" r="10.2" fill="#00c000"/>
<circle cx="477.2" cy="1537.2" r="10.2" fill="#00c000"/>
<circle cx="501.4" cy="1537.2" r="10.2" fill="#00c000"/>
<circle cx="465.2" cy="1586" r="10.2" fill="#00c000"/>
<circle cx="489.3" cy="1586" r="10.2" fill="#00c000"/>
<circle cx="452.9" cy="1610.4" r="10.2" fill="#00c000"/>
<circle cx="477.2" cy="1610.4" r="10.2" fill="#00c000"/>
<circle cx="501.4" cy="1610.4" r="10.2" fill="#00c000"/>
<line x1="139.6" y1="1464" x2="206.5" y2="1464" stroke="#000" stroke-width="3.2" stroke-linecap="butt" />
<line x1="240.7" y1="1537.2" x2="308.3" y2="1537.2" stroke="#000" stroke-width="3.2" stroke-linecap="butt" />
<line x1="342.8" y1="1512.8" x2="409.8" y2="1512.8" stroke="#000" stroke-width="3.2" stroke-linecap="butt" />
<line x1="443.6" y1="1561.6" x2="511" y2="1561.6" stroke="#000" stroke-width="3.2" stroke-linecap="butt" />
<line x1="153.9" y1="1185.5" x2="516.3" y2="1185.5" stroke="#000" stroke-width="2" stroke-linecap="butt" />
<line x1="155.4" y1="1184.5" x2="155.4" y2="1203" stroke="#000" stroke-width="3" stroke-linecap="butt" />
<line x1="514.8" y1="1184.5" x2="514.8" y2="1203" stroke="#000" stroke-width="3" stroke-linecap="butt" />
<path d="M315.15 1157.3V1170.7M309.08 1161.17L321.22 1166.83M309.08 1166.83L321.22 1161.17" stroke="#000" stroke-width="2.3" fill="none"/>
<path d="M335 1157.3V1170.7M328.93 1161.17L341.07 1166.83M328.93 1166.83L341.07 1161.17" stroke="#000" stroke-width="2.3" fill="none"/>
<path d="M354.85 1157.3V1170.7M348.78 1161.17L360.92 1166.83M348.78 1166.83L360.92 1161.17" stroke="#000" stroke-width="2.3" fill="none"/>
<line x1="158.5" y1="1230.8" x2="381" y2="1230.8" stroke="#000" stroke-width="3" stroke-linecap="butt" />
<line x1="160" y1="1229.3" x2="160" y2="1243" stroke="#000" stroke-width="3" stroke-linecap="butt" />
<line x1="380" y1="1229.3" x2="380" y2="1243" stroke="#000" stroke-width="2" stroke-linecap="butt" />
<text x="269.1" y="1214.2" font-size="27.5" text-anchor="middle" font-weight="normal" fill="#000" textLength="28.2" lengthAdjust="spacingAndGlyphs" >ns</text>
<line x1="160.5" y1="1278.5" x2="276.3" y2="1278.5" stroke="#000" stroke-width="2" stroke-linecap="butt" />
<line x1="162" y1="1277.5" x2="162" y2="1290.8" stroke="#000" stroke-width="3" stroke-linecap="butt" />
<line x1="274.8" y1="1277.5" x2="274.8" y2="1290.8" stroke="#000" stroke-width="3" stroke-linecap="butt" />
<path d="M207.88 1250.3V1263.7M201.8 1254.17L213.95 1259.83M201.8 1259.83L213.95 1254.17" stroke="#000" stroke-width="2.3" fill="none"/>
<path d="M227.72 1250.3V1263.7M221.65 1254.17L233.8 1259.83M221.65 1259.83L233.8 1254.17" stroke="#000" stroke-width="2.3" fill="none"/>
<line x1="293" y1="1283.7" x2="516.3" y2="1283.7" stroke="#000" stroke-width="3" stroke-linecap="butt" />
<line x1="294.5" y1="1282.2" x2="294.5" y2="1295.4" stroke="#000" stroke-width="3" stroke-linecap="butt" />
<line x1="514.8" y1="1282.2" x2="514.8" y2="1295.4" stroke="#000" stroke-width="3" stroke-linecap="butt" />
<text x="404.3" y="1266.7" font-size="27.5" text-anchor="middle" font-weight="normal" fill="#000" textLength="28.2" lengthAdjust="spacingAndGlyphs" >ns</text>
<line x1="378.5" y1="1334.8" x2="516.3" y2="1334.8" stroke="#000" stroke-width="3" stroke-linecap="butt" />
<line x1="380" y1="1333.3" x2="380" y2="1346.8" stroke="#000" stroke-width="3" stroke-linecap="butt" />
<line x1="514.8" y1="1333.3" x2="514.8" y2="1346.8" stroke="#000" stroke-width="3" stroke-linecap="butt" />
<path d="M447 1308.7V1322.1M440.93 1312.57L453.07 1318.23M440.93 1318.23L453.07 1312.57" stroke="#000" stroke-width="2.3" fill="none"/>
<line x1="847.2" y1="1187.3" x2="847.2" y2="1682.3" stroke="#000" stroke-width="3" stroke-linecap="butt" />
<line x1="832.7" y1="1680.8" x2="1296" y2="1680.8" stroke="#000" stroke-width="3" stroke-linecap="butt" />
<line x1="832.6" y1="1680.8" x2="847.2" y2="1680.8" stroke="#000" stroke-width="2.8" stroke-linecap="butt" />
<text x="828.6" y="1690.7" font-size="30.5" text-anchor="end" font-weight="normal" fill="#000" >-5</text>
<text x="828.6" y="1526.7" font-size="30.5" text-anchor="end" font-weight="normal" fill="#000" >0</text>
<line x1="832.6" y1="1352.8" x2="847.2" y2="1352.8" stroke="#000" stroke-width="2.8" stroke-linecap="butt" />
<text x="828.6" y="1362.7" font-size="30.5" text-anchor="end" font-weight="normal" fill="#000" >5</text>
<line x1="832.6" y1="1188.8" x2="847.2" y2="1188.8" stroke="#000" stroke-width="2.8" stroke-linecap="butt" />
<text x="828.6" y="1198.7" font-size="30.5" text-anchor="end" font-weight="normal" fill="#000" >10</text>
<rect x="795.89" y="1195.19" width="6.37" height="4.51" fill="#fff"/>
<rect x="805.11" y="1195.19" width="6.19" height="4.51" fill="#fff"/>
<line x1="915.2" y1="1680.8" x2="915.2" y2="1692.3" stroke="#000" stroke-width="2.8" stroke-linecap="butt" />
<line x1="1019.2" y1="1680.8" x2="1019.2" y2="1692.3" stroke="#000" stroke-width="2.8" stroke-linecap="butt" />
<line x1="1122" y1="1680.8" x2="1122" y2="1692.3" stroke="#000" stroke-width="2.8" stroke-linecap="butt" />
<line x1="1226" y1="1680.8" x2="1226" y2="1692.3" stroke="#000" stroke-width="2.8" stroke-linecap="butt" />
<text transform="translate(756.4,1446) rotate(-90)" font-size="32" text-anchor="middle" textLength="309.9" lengthAdjust="spacingAndGlyphs">% weight change on d†</text>
<text transform="translate(790.5,1448) rotate(-90)" font-size="27.5" text-anchor="middle" textLength="226.8" lengthAdjust="spacingAndGlyphs">(compared to day0)</text>
<g transform="translate(923.4,1716.43) rotate(-43.9)"><text font-size="26.5" text-anchor="end" font-weight="bold" textLength="95.67" lengthAdjust="spacingAndGlyphs">Vehicle</text></g>
<g transform="translate(1023.8,1719.9) rotate(-43.9)"><text font-size="26.5" text-anchor="end" font-weight="bold" textLength="272.15" lengthAdjust="spacingAndGlyphs">GS-441524 (50 mg/kg)</text><rect x="-195.43" y="-3.58" width="5" height="4.78" fill="#fff"/><rect x="-186.73" y="-3.58" width="4.61" height="4.78" fill="#fff"/></g>
<g transform="translate(1126.6,1719.9) rotate(-43.9)"><text font-size="26.5" text-anchor="end" font-weight="bold" textLength="282.32" lengthAdjust="spacingAndGlyphs">EIDD-2801 (150 mg/kg)</text><rect x="-166.3" y="-3.58" width="5" height="4.78" fill="#fff"/><rect x="-157.61" y="-3.58" width="4.61" height="4.78" fill="#fff"/><rect x="-135.74" y="-3.58" width="5" height="4.78" fill="#fff"/><rect x="-127.05" y="-3.58" width="4.61" height="4.78" fill="#fff"/></g>
<g transform="translate(1230.6,1719.9) rotate(-43.9)"><text font-size="26.5" text-anchor="end" font-weight="bold" textLength="312.9" lengthAdjust="spacingAndGlyphs">EIDD+GS (150+50 mg/kg)</text><rect x="-180.17" y="-3.58" width="5" height="4.78" fill="#fff"/><rect x="-171.48" y="-3.58" width="4.61" height="4.78" fill="#fff"/></g>
<path d="M883.6 1516.8V1427H946.9V1516.8" fill="#fff" stroke="#000" stroke-width="3.2"/>
<path d="M987.8 1516.8V1440.4H1051V1516.8" fill="#fff" stroke="#000" stroke-width="3.2"/>
<path d="M1091.6 1516.8V1448.5H1153.8V1516.8" fill="#fff" stroke="#000" stroke-width="3.2"/>
<path d="M1194.6 1516.8V1372.4H1257.4V1516.8" fill="#fff" stroke="#000" stroke-width="3.2"/>
<line x1="832.6" y1="1516.8" x2="1296" y2="1516.8" stroke="#000" stroke-width="1.9" stroke-linecap="butt" />
<line x1="850" y1="1518.4" x2="1296" y2="1518.4" stroke="#000" stroke-width="1.6" stroke-dasharray="1.8 8"/>
<line x1="915.7" y1="1342.3" x2="915.7" y2="1504.6" stroke="#ababaf" stroke-width="3.2" stroke-linecap="butt" />
<line x1="898.5" y1="1342.3" x2="932.9" y2="1342.3" stroke="#ababaf" stroke-width="3" stroke-linecap="butt" />
<line x1="898.5" y1="1504.6" x2="932.9" y2="1504.6" stroke="#ababaf" stroke-width="3" stroke-linecap="butt" />
<line x1="1019.2" y1="1328.2" x2="1019.2" y2="1546.2" stroke="#ff7f00" stroke-width="3.2" stroke-linecap="butt" />
<line x1="1002" y1="1328.2" x2="1036.4" y2="1328.2" stroke="#ff7f00" stroke-width="3" stroke-linecap="butt" />
<line x1="1002" y1="1546.2" x2="1036.4" y2="1546.2" stroke="#ff7f00" stroke-width="3" stroke-linecap="butt" />
<line x1="1122.8" y1="1392.3" x2="1122.8" y2="1498.5" stroke="#90bef6" stroke-width="3.2" stroke-linecap="butt" />
<line x1="1105.6" y1="1392.3" x2="1140" y2="1392.3" stroke="#90bef6" stroke-width="3" stroke-linecap="butt" />
<line x1="1105.6" y1="1498.5" x2="1140" y2="1498.5" stroke="#90bef6" stroke-width="3" stroke-linecap="butt" />
<line x1="1226.2" y1="1306.2" x2="1226.2" y2="1433.8" stroke="#00c000" stroke-width="3.2" stroke-linecap="butt" />
<line x1="1209" y1="1306.2" x2="1243.4" y2="1306.2" stroke="#00c000" stroke-width="3" stroke-linecap="butt" />
<line x1="1209" y1="1433.8" x2="1243.4" y2="1433.8" stroke="#00c000" stroke-width="3" stroke-linecap="butt" />
<circle cx="915.7" cy="1288.2" r="9" fill="#a1a1a6"/>
<circle cx="889.2" cy="1346.9" r="9" fill="#a1a1a6"/>
<circle cx="915.7" cy="1353.8" r="9" fill="#a1a1a6"/>
<circle cx="941.8" cy="1353.8" r="9" fill="#a1a1a6"/>
<circle cx="889.2" cy="1386.2" r="9" fill="#a1a1a6"/>
<circle cx="915.7" cy="1396.5" r="9" fill="#a1a1a6"/>
<circle cx="915.7" cy="1418.5" r="9" fill="#a1a1a6"/>
<circle cx="915.7" cy="1484.6" r="9" fill="#a1a1a6"/>
<circle cx="915.7" cy="1500.8" r="9" fill="#a1a1a6"/>
<circle cx="889.2" cy="1517.7" r="9" fill="#a1a1a6"/>
<circle cx="915.7" cy="1517.7" r="9" fill="#a1a1a6"/>
<circle cx="941.8" cy="1517.7" r="9" fill="#a1a1a6"/>
<circle cx="1019.3" cy="1248.3" r="9" fill="#ff7f00"/>
<circle cx="1003.1" cy="1320.8" r="9" fill="#ff7f00"/>
<circle cx="1035.4" cy="1320.8" r="9" fill="#ff7f00"/>
<circle cx="1019.2" cy="1386.5" r="9" fill="#ff7f00"/>
<circle cx="1035.4" cy="1425.7" r="9" fill="#ff7f00"/>
<circle cx="1003.1" cy="1438.8" r="9" fill="#ff7f00"/>
<circle cx="1003.1" cy="1455.7" r="9" fill="#ff7f00"/>
<circle cx="1035.4" cy="1452" r="9" fill="#ff7f00"/>
<circle cx="1003.1" cy="1497.7" r="9" fill="#ff7f00"/>
<circle cx="1035.4" cy="1491.5" r="9" fill="#ff7f00"/>
<circle cx="1019.2" cy="1571.9" r="9" fill="#ff7f00"/>
<circle cx="1019.2" cy="1638.5" r="9" fill="#ff7f00"/>
<circle cx="1122.8" cy="1353.4" r="9" fill="#90bef6"/>
<circle cx="1106.5" cy="1386.2" r="9" fill="#90bef6"/>
<circle cx="1139.2" cy="1386.2" r="9" fill="#90bef6"/>
<circle cx="1106.5" cy="1419.2" r="9" fill="#90bef6"/>
<circle cx="1139.2" cy="1419.2" r="9" fill="#90bef6"/>
<circle cx="1106.5" cy="1451.8" r="9" fill="#90bef6"/>
<circle cx="1139.2" cy="1451.8" r="9" fill="#90bef6"/>
<circle cx="1122.8" cy="1468.2" r="9" fill="#90bef6"/>
<circle cx="1106.5" cy="1484.6" r="9" fill="#90bef6"/>
<circle cx="1139.2" cy="1484.6" r="9" fill="#90bef6"/>
<circle cx="1106.5" cy="1520.8" r="9" fill="#90bef6"/>
<circle cx="1139.2" cy="1517.7" r="9" fill="#90bef6"/>
<circle cx="1226.2" cy="1255.8" r="9" fill="#00c000"/>
<circle cx="1226.2" cy="1288.2" r="9" fill="#00c000"/>
<circle cx="1200" cy="1353.8" r="9" fill="#00c000"/>
<circle cx="1226.2" cy="1353.8" r="9" fill="#00c000"/>
<circle cx="1253" cy="1353.8" r="9" fill="#00c000"/>
<circle cx="1213.1" cy="1386.2" r="9" fill="#00c000"/>
<circle cx="1239.2" cy="1386.2" r="9" fill="#00c000"/>
<circle cx="1226.2" cy="1419.2" r="9" fill="#00c000"/>
<circle cx="1213.1" cy="1451.8" r="9" fill="#00c000"/>
<circle cx="1239.2" cy="1451.8" r="9" fill="#00c000"/>
<text x="91.5" y="33.4" font-size="22.8" text-anchor="start" font-weight="normal" fill="#3a3a3a" textLength="265.5" lengthAdjust="spacingAndGlyphs" >Intranasal infection with</text>
<text x="72.5" y="61.5" font-size="22.4" text-anchor="start" font-weight="bold" fill="#2a2a2a" textLength="141" lengthAdjust="spacingAndGlyphs" >SARS-CoV-2</text>
<text x="220.5" y="61.5" font-size="22.4" text-anchor="start" font-weight="normal" fill="#3a3a3a" textLength="59.5" lengthAdjust="spacingAndGlyphs" >(1x10</text>
<rect x="229.37" y="58.92" width="4.97" height="3.58" fill="#fff"/>
<rect x="236.56" y="58.92" width="4.83" height="3.58" fill="#fff"/>
<rect x="254.49" y="58.92" width="4.97" height="3.58" fill="#fff"/>
<rect x="261.68" y="58.92" width="4.83" height="3.58" fill="#fff"/>
<text x="282.3" y="52.7" font-size="12.5" text-anchor="start" font-weight="normal" fill="#3a3a3a" >4</text>
<text x="298" y="61.8" font-size="22.4" text-anchor="start" font-weight="normal" fill="#3a3a3a" textLength="53" lengthAdjust="spacingAndGlyphs" >TCID</text>
<text x="351.7" y="64.6" font-size="14.4" text-anchor="start" font-weight="normal" fill="#4a4a4a" textLength="16" lengthAdjust="spacingAndGlyphs" >50</text>
<text x="366.5" y="61.5" font-size="22.4" text-anchor="start" font-weight="normal" fill="#3a3a3a" >)</text>
<g><path d="M194.5 68.5 L199 66 L208.5 84 L204.5 86.5 Z" fill="#e6eef2" stroke="#9aa6b0" stroke-width="0.8"/><line x1="205.5" y1="84.5" x2="218.8" y2="101.2" stroke="#4a3c8c" stroke-width="1.8"/></g>
<g><path d="M217.5 102 C219 99.5 223 98.5 228 99 C238 99.5 248 102 255 105 L263 119 C268 126 274 134 280 145 C288 156 296 166 300 177 C304 188 305 205 304 216 C303.5 221 302 224 300 226 L270 228.5 L255 228.5 C250 218 243 205 236 194 C230 186 226 180 224 172 C222 165 221 158 222 150 C220 140 218 128 218 118 C217 112 216.5 106 217.5 102 Z" fill="#d89b5b" stroke="#b98449" stroke-width="0.7"/><path d="M262 213 C275 222 292 222 304 213 L303 222 C300 226 296 228 290 228.5 L262 228.5 Z" fill="#c98a4e" opacity="0.75"/><path d="M224 168 C230 170 238 172 245 175 C252 178 258 181 263 182 C260 190 258 200 258 212 C258 220 259 225 260 228.5 L255 228.5 C250 218 243 205 236 194 C230 186 226 180 224 172 Z" fill="#d4b79d"/><path d="M243 175 C250 177 258 180 264 182 L262.5 185.5 C256 183 249 180.5 243 178 Z" fill="#ecdfcd"/><path d="M218 109 C222 115 228 120 236 124 L240 128 C241 133 239 140 236 145 L230 146 C225 142 222 136 221 128 C219.5 121 218.5 114 218 109 Z" fill="#e6d2ba"/><path d="M229 137 C233 137 238 138 240 140 L236 145.5 L230 146 Z" fill="#f1e8dc"/><path d="M222 149 C228 147 240 148 247 154 C252 160 250 168 244 170 C236 171 228 170 224 168 C222 162 221 155 222 149 Z" fill="#d89b5b" stroke="#c08a50" stroke-width="0.5"/><path d="M203.5 149 C205 146.5 208 147 210 150 L214 156 L222 158 L221 162 L212 161 C208 158 204.5 153 203.5 149 Z" fill="#e4938a"/><path d="M208.5 172 C211 168.5 216 167.5 222 168 L224 173 L213 175 C210.5 175 208.5 174 208.5 172 Z" fill="#e4938a"/><path d="M253.5 224 L268 222 C271 224 272 227 272 229.5 L254 230 C253 228 253 226 253.5 224 Z" fill="#e6998f"/><path d="M297 224 C303 225 309 226.5 312.5 228 C312 229.5 310 230 306 230 L297 229 Z" fill="#e6998f"/><path d="M255.5 104.5 L259.5 102 L264.5 103.5 L262.5 108 L257.5 108 Z" fill="#7d6d5e"/><ellipse cx="261.7" cy="118.5" rx="7.7" ry="7.3" fill="#877767"/><ellipse cx="237" cy="111" rx="2.4" ry="1.8" transform="rotate(-25 237 111)" fill="#1a1a1a"/><path d="M218.5 100.5 C219.5 99.5 221.5 99.5 222.5 100.5 L221.5 103 L219 103 Z" fill="#e8a0a0"/></g>
<text x="99.3" y="255.2" font-size="22" text-anchor="start" font-weight="bold" fill="#1d2be0" textLength="169.5" lengthAdjust="spacingAndGlyphs" >Syrian hamsters</text>
<g transform="translate(471.5,90.8) rotate(51.3)"><rect x="-1.5" y="-5.5" width="3.5" height="11" rx="1.5" fill="#f0f0f0" stroke="#a8a8a8" stroke-width="0.8"/><rect x="2" y="-2.8" width="22" height="5.6" fill="#f4f4f4" stroke="#b0b0b0" stroke-width="0.8"/><rect x="21.5" y="-7.5" width="3.5" height="15" rx="1.5" fill="#f0f0f0" stroke="#a8a8a8" stroke-width="0.8"/><rect x="25" y="-4.8" width="46" height="9.6" fill="#f3f3f3" stroke="#9a9a9a" stroke-width="0.8"/><rect x="51.5" y="-4.8" width="19.5" height="9.6" fill="#5d9dd2" stroke="#4a7aa8" stroke-width="0.8"/><rect x="49.5" y="-4.8" width="2.5" height="9.6" fill="#555"/><path d="M71 -3.2 L81 -1.4 L81 1.4 L71 3.2 Z" fill="#2f9a82"/><line x1="81" y1="0" x2="99" y2="0" stroke="#7a7a7a" stroke-width="1"/></g>
<defs><linearGradient id="cone" x1="0" y1="1" x2="0.6" y2="0"><stop offset="0" stop-color="#c2cbe6"/><stop offset="1" stop-color="#e6eaf5"/></linearGradient></defs>
<path d="M512 137 L515.4 90.8 L560.4 126 Z" fill="url(#cone)"/>
<circle cx="556.9" cy="83.3" r="41" fill="#fff" stroke="#8393ab" stroke-width="1.3"/>
<circle cx="544.2" cy="66.5" r="4.9" fill="#1c8fd0"/>
<circle cx="563" cy="61.1" r="4.9" fill="#ec8a5e"/>
<circle cx="577.1" cy="72.9" r="4.9" fill="#1c8fd0"/>
<circle cx="532.9" cy="84.4" r="4.9" fill="#eaa12e"/>
<circle cx="557.5" cy="82.1" r="4.9" fill="#1c8fd0"/>
<circle cx="581.2" cy="89" r="4.9" fill="#2aa2dc"/>
<circle cx="544.2" cy="102.9" r="4.9" fill="#1c8fd0"/>
<circle cx="563.8" cy="103.5" r="4.9" fill="#eaa12e"/>
<text x="408.8" y="193.5" font-size="22.5" text-anchor="start" font-weight="normal" fill="#3a3a3a" textLength="202" lengthAdjust="spacingAndGlyphs" >oral treatment (BID)</text>
<line x1="350" y1="207.9" x2="668" y2="207.9" stroke="#2a7fc0" stroke-width="2.2"/>
<path d="M340.2 207.9 L352.1 202.3 L352.1 213.6 Z" fill="#2a7fc0"/>
<path d="M679 207.9 L667.1 202.3 L667.1 213.6 Z" fill="#2a7fc0"/>
<path d="M339.6 225.7 V238.1 H788.4 V225" fill="none" stroke="#262626" stroke-width="2.5" stroke-linejoin="round"/>
<line x1="444.2" y1="227.8" x2="444.2" y2="238.1" stroke="#262626" stroke-width="2.5" stroke-linecap="butt" />
<line x1="551.3" y1="225.3" x2="551.3" y2="238.1" stroke="#262626" stroke-width="2.5" stroke-linecap="butt" />
<line x1="672.7" y1="225.3" x2="672.7" y2="238.1" stroke="#262626" stroke-width="2.5" stroke-linecap="butt" />
<text x="318.5" y="267.3" font-size="20.5" text-anchor="start" font-weight="bold" fill="#1a1a1a" textLength="49.5" lengthAdjust="spacingAndGlyphs" >Day 0</text>
<text x="756.8" y="267.6" font-size="20.5" text-anchor="start" font-weight="bold" fill="#1a1a1a" textLength="49.5" lengthAdjust="spacingAndGlyphs" >Day 4</text>
<text x="456.5" y="278.5" font-size="20.5" text-anchor="start" font-weight="bold" fill="#1a1a1a" textLength="202" lengthAdjust="spacingAndGlyphs" >Days post-infection</text>
<text x="730.6" y="42.6" font-size="25.5" text-anchor="start" font-weight="bold" fill="#111" textLength="98.5" lengthAdjust="spacingAndGlyphs" >Sacrifice</text>
<text x="714.2" y="81.4" font-size="19.5" text-anchor="start" font-weight="bold" fill="#1020c0" textLength="122" lengthAdjust="spacingAndGlyphs" >collect lungs</text>
<g><path d="M777 146 C768 148 760 160 757.5 178 C756 190 758 198 767 202 C773 203 777 198 778 190 C780 175 780 160 777 146 Z" fill="#d9939c"/><path d="M796 148.5 C805 149 812 160 813.5 175 C815 188 811 195 803 197 C797 198 794 194 794 186 C794 172 793 158 796 148.5 Z" fill="#d9939c"/><path d="M779 176 C785 176 791 183 792 195 L788 197 C784 191 780 184 779 176 Z" fill="#d98a98"/><path d="M782 181 C786 183 789 188 790 195 L788 196 C786 191 783 186 782 181 Z" fill="#c46a80"/><path d="M785.6 141 V168 M785.6 168 L779 173 M785.6 168 L792.5 173" stroke="#4a6fa8" stroke-width="2.6" fill="none"/></g>
<rect x="872.6" y="89.8" width="409.6" height="164" fill="#fff" stroke="#48bbec" stroke-width="4.8"/>
<text x="892.5" y="127.8" font-size="30" text-anchor="start" font-weight="normal" fill="#1a4888" textLength="360.5" lengthAdjust="spacingAndGlyphs" >Lung samples to determine:</text>
<circle cx="897.5" cy="153.9" r="4" fill="#1a4888"/>
<text x="952.5" y="163.8" font-size="30" text-anchor="start" font-weight="normal" fill="#1a4888" textLength="198" lengthAdjust="spacingAndGlyphs" >Infectious Virus</text>
<circle cx="897.5" cy="189.6" r="4" fill="#1a4888"/>
<text x="952.5" y="199.5" font-size="30" text-anchor="start" font-weight="normal" fill="#1a4888" textLength="129" lengthAdjust="spacingAndGlyphs" >Viral RNA</text>
<circle cx="897.5" cy="225.3" r="4" fill="#1a4888"/>
<text x="952.5" y="235.2" font-size="30" text-anchor="start" font-weight="normal" fill="#1a4888" textLength="192" lengthAdjust="spacingAndGlyphs" >Histopathology</text>
</svg></body></html>
